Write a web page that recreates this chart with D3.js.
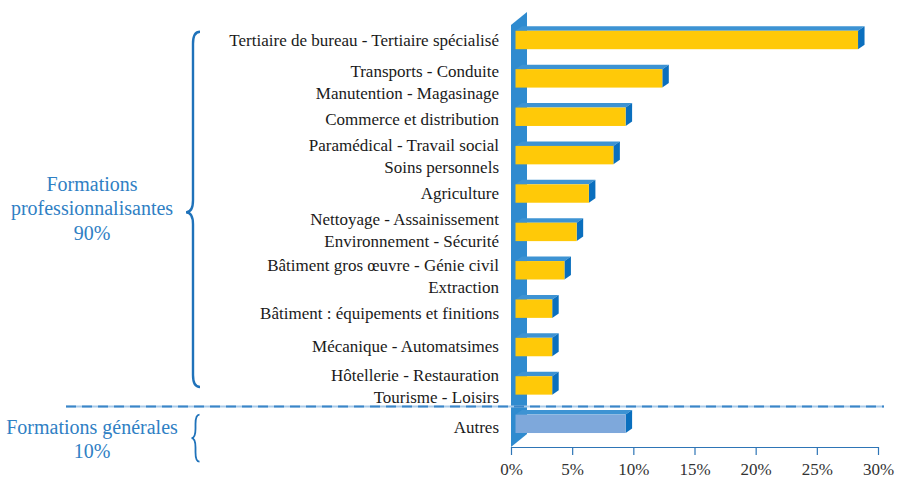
<!DOCTYPE html>
<html>
<head>
<meta charset="utf-8">
<script src="https://cdn.jsdelivr.net/npm/d3@7"></script>
<style>
  body { margin: 0; background: #fff; }
</style>
</head>
<body>
<div id="chart-area"></div>
<script>
// data
var categories = [
  "Tertiaire de bureau - Tertiaire spécialisé",
  "Transports - Conduite|Manutention - Magasinage",
  "Commerce et distribution",
  "Paramédical - Travail social|Soins personnels",
  "Agriculture",
  "Nettoyage - Assainissement|Environnement - Sécurité",
  "Bâtiment gros œuvre - Génie civil|Extraction",
  "Bâtiment : équipements et finitions",
  "Mécanique - Automatsimes",
  "Hôtellerie - Restauration|Tourisme - Loisirs",
  "Autres"
];
var values = [28, 12, 9, 8, 6, 5, 4, 3, 3, 3, 9];
var groups = ["pro", "pro", "pro", "pro", "pro", "pro", "pro", "pro", "pro", "pro", "gen"];
var tickValues = [0, 5, 10, 15, 20, 25, 30];
var groupLabels = [
  ["Formations", "professionnalisantes", "90%"],
  ["Formations générales", "10%"]
];

var width = 897, height = 478;
var font = "Liberation Serif";

// small vertical nudges of the category labels, as in the original layout
var labelNudge = [0, 3.7, 2, 1, 0, -2, 5.3, 4, -1, 0.5, 3];

var svg = d3.select("#chart-area")
  .append("svg")
  .attr("width", width)
  .attr("height", height);

var x = d3.scaleLinear()
  .domain([0, 30])
  .range([511, 878]);

var y = d3.scaleBand()
  .domain(categories)
  .range([20.8, 443])
  .padding(0);

var barH = y.bandwidth() * 0.48;
var dx = 6.5, dy = 4.5, shift = 4.5;
var axisY = 447;

var blue = "#2F8BCF";

// side wall
svg.append("path")
  .attr("d", "M" + x(0) + "," + 25 + "L" + (x(0) + 16) + "," + 12 +
    "L" + (x(0) + 16) + "," + 434 + "L" + x(0) + "," + axisY + "Z")
  .attr("fill", blue);

// x axis
var xAxis = svg.append("g")
  .attr("transform", "translate(0," + axisY + ")")
  .call(d3.axisBottom(x)
    .tickValues(tickValues)
    .tickFormat(function(d) { return d + "%"; })
    .tickSize(8)
    .tickSizeOuter(0)
    .tickPadding(8));
xAxis.select(".domain").attr("stroke", "#2E75B6").attr("stroke-width", 1.2);
xAxis.selectAll(".tick line").attr("stroke", "#2E75B6").attr("stroke-width", 1.2);
xAxis.selectAll(".tick text")
  .attr("fill", "#333")
  .attr("font-family", font)
  .attr("font-size", 17);

// separator between the two groups
var sepY = y("Autres") + 2;
svg.append("line")
  .attr("x1", 66).attr("x2", 884)
  .attr("y1", sepY).attr("y2", sepY)
  .attr("stroke", "#A9CBEA").attr("stroke-width", 2);
svg.append("line")
  .attr("x1", 66).attr("x2", 884)
  .attr("y1", sepY).attr("y2", sepY)
  .attr("stroke", "#3A86C8").attr("stroke-width", 2)
  .attr("stroke-dasharray", "10,6");

// bars
var bars = svg.append("g")
  .selectAll("g")
  .data(categories)
  .enter()
  .append("g");

function barTop(d) { return y(d) + (y.bandwidth() - barH) / 2; }
function x0(d) { return x(0) + shift; }
function x1(d, i) { return x(values[i]) + shift; }

// top face
bars.append("path")
  .attr("d", function(d, i) {
    var t = barTop(d), a = x0(d), b = x1(d, i);
    return "M" + a + "," + t + "L" + (a + dx) + "," + (t - dy) +
      "L" + (b + dx) + "," + (t - dy) + "L" + b + "," + t + "Z";
  })
  .attr("fill", "#3D93D3");

// right face
bars.append("path")
  .attr("d", function(d, i) {
    var t = barTop(d), b = x1(d, i);
    return "M" + b + "," + t + "L" + (b + dx) + "," + (t - dy) +
      "L" + (b + dx) + "," + (t + barH - dy) + "L" + b + "," + (t + barH) + "Z";
  })
  .attr("fill", "#0A6FBE");

// front face
bars.append("rect")
  .attr("x", x0)
  .attr("y", barTop)
  .attr("width", function(d, i) { return x1(d, i) - x0(d); })
  .attr("height", barH)
  .attr("fill", function(d, i) { return groups[i] === "pro" ? "#FFC908" : "#7EA8DB"; });

// category labels, one text per line
categories.forEach(function(d, i) {
  var lines = d.split("|");
  lines.forEach(function(line, k) {
    var off = (k - (lines.length - 1) / 2) * 22;
    svg.append("text")
      .attr("text-anchor", "end")
      .attr("x", 499)
      .attr("y", y(d) + y.bandwidth() / 2 + labelNudge[i] + off)
      .attr("dy", "0.35em")
      .attr("fill", "#1a1a1a")
      .attr("font-family", font)
      .attr("font-size", 17)
      .text(line);
  });
});

// curly braces
function brace(bx, top, bottom, tipY, w) {
  var r = Math.min(12, (bottom - top) / 5);
  return "M" + (bx + w) + "," + top +
    "Q" + bx + "," + top + " " + bx + "," + (top + r) +
    "L" + bx + "," + (tipY - r) +
    "Q" + bx + "," + tipY + " " + (bx - w) + "," + tipY +
    "Q" + bx + "," + tipY + " " + bx + "," + (tipY + r) +
    "L" + bx + "," + (bottom - r) +
    "Q" + bx + "," + bottom + " " + (bx + w) + "," + bottom;
}

var braceColor = "#1F72BA";
var proTop = y(categories[0]) + 11;
var proBottom = y(categories[9]) + y.bandwidth() / 2 + 1.5;
var proMid = (proTop + proBottom) / 2 + 3;
svg.append("path")
  .attr("d", brace(193, proTop, proBottom, proMid, 7))
  .attr("fill", "none")
  .attr("stroke", braceColor)
  .attr("stroke-width", 2.4);

var genTop = y("Autres") + 10;
var genBottom = genTop + 47;
var genMid = (genTop + genBottom) / 2;
svg.append("path")
  .attr("d", brace(195.5, genTop, genBottom, genMid, 4))
  .attr("fill", "none")
  .attr("stroke", braceColor)
  .attr("stroke-width", 1.8);

// group labels
function groupText(lines, cy) {
  lines.forEach(function(line, k) {
    svg.append("text")
      .attr("text-anchor", "middle")
      .attr("x", 92)
      .attr("y", cy + (k - (lines.length - 1) / 2) * 24.5)
      .attr("dy", "0.35em")
      .attr("fill", "#2F80C4")
      .attr("font-family", font)
      .attr("font-size", 20)
      .text(line);
  });
}
groupText(groupLabels[0], proMid - 4);
groupText(groupLabels[1], genMid + 1);
</script>
</body>
</html>
